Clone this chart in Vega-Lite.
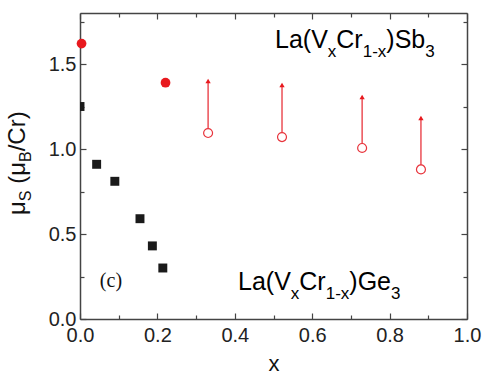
{
  "$schema": "https://vega.github.io/schema/vega-lite/v6.json",
  "width": 387,
  "height": 306,
  "autosize": {"type": "none"},
  "padding": {"left": 80, "top": 13, "right": 23, "bottom": 67},
  "background": "white",
  "config": {
    "view": {"stroke": null},
    "font": "Liberation Sans",
    "axis": {
      "labelFont": "Liberation Sans",
      "labelFontSize": 20,
      "labelColor": "#222",
      "labelFlush": false,
      "labelOverlap": false,
      "domainColor": "#444",
      "domainWidth": 1.5,
      "tickColor": "#444",
      "tickWidth": 1.2,
      "grid": false,
      "titleFont": "Liberation Sans",
      "titleFontSize": 22,
      "titleFontWeight": "normal",
      "titleColor": "#111"
    }
  },
  "datasets": {
    "ge": [
      {"x": 0.0, "y": 1.25},
      {"x": 0.043, "y": 0.91},
      {"x": 0.09, "y": 0.81},
      {"x": 0.155, "y": 0.59},
      {"x": 0.187, "y": 0.43},
      {"x": 0.214, "y": 0.30}
    ],
    "sbFilled": [
      {"x": 0.004, "y": 1.62},
      {"x": 0.221, "y": 1.39}
    ],
    "sbOpen": [
      {"x": 0.331, "y": 1.094, "tip": 1.40},
      {"x": 0.522, "y": 1.07, "tip": 1.376},
      {"x": 0.729, "y": 1.006, "tip": 1.306},
      {"x": 0.881, "y": 0.88, "tip": 1.182}
    ],
    "labelMain": [
      {"x": 0.5039, "y": 1.594, "t": "La(V"},
      {"x": 0.6623, "y": 1.594, "t": "Cr"},
      {"x": 0.7915, "y": 1.594, "t": ")Sb"},
      {"x": 0.4083, "y": 0.171, "t": "La(V"},
      {"x": 0.5667, "y": 0.171, "t": "Cr"},
      {"x": 0.6959, "y": 0.171, "t": ")Ge"}
    ],
    "labelSub": [
      {"x": 0.6403, "y": 1.594, "t": "x"},
      {"x": 0.7305, "y": 1.594, "t": "1-x"},
      {"x": 0.8920, "y": 1.594, "t": "3"},
      {"x": 0.5447, "y": 0.171, "t": "x"},
      {"x": 0.6349, "y": 0.171, "t": "1-x"},
      {"x": 0.8036, "y": 0.171, "t": "3"}
    ],
    "ytitleMain": [
      {"x": -0.1421, "y": 0.6118, "t": "μ"},
      {"x": -0.1421, "y": 0.7953, "t": "(μ"},
      {"x": -0.1421, "y": 0.9865, "t": "/Cr)"}
    ],
    "ytitleSub": [
      {"x": -0.1421, "y": 0.6929, "t": "S"},
      {"x": -0.1421, "y": 0.9235, "t": "B"}
    ],
    "panel": [
      {"x": 0.08, "y": 0.188, "t": "(c)"}
    ]
  },
  "resolve": {"axis": {"x": "independent", "y": "independent"}},
  "layer": [
    {
      "data": {"name": "ge"},
      "mark": {"type": "point", "shape": "square", "filled": true, "size": 80, "color": "#1a1a1a", "opacity": 1, "clip": true},
      "encoding": {
        "x": {"field": "x", "type": "quantitative", "scale": {"domain": [0, 1], "nice": false, "zero": false},
          "axis": {"orient": "bottom", "values": [0, 0.2, 0.4, 0.6, 0.8, 1.0], "format": ".1f", "tickSize": -6, "labelPadding": 12, "title": "x", "titlePadding": 8}},
        "y": {"field": "y", "type": "quantitative", "scale": {"domain": [0, 1.8], "nice": false, "zero": false},
          "axis": {"orient": "left", "values": [0, 0.5, 1.0, 1.5], "format": ".1f", "tickSize": -6, "labelPadding": 10, "title": null}}
      }
    },
    {
      "data": {"name": "sbFilled"},
      "mark": {"type": "point", "shape": "circle", "filled": true, "size": 95, "color": "#e8191e", "opacity": 1},
      "encoding": {
        "x": {"field": "x", "type": "quantitative", "scale": {"domain": [0, 1], "nice": false, "zero": false},
          "axis": {"orient": "top", "values": [0, 0.2, 0.4, 0.6, 0.8, 1.0], "labels": false, "tickSize": -6, "title": null}},
        "y": {"field": "y", "type": "quantitative", "scale": {"domain": [0, 1.8], "nice": false, "zero": false},
          "axis": {"orient": "right", "values": [0, 0.5, 1.0, 1.5], "labels": false, "tickSize": -6, "title": null}}
      }
    },
    {
      "data": {"name": "sbOpen"},
      "mark": {"type": "rule", "color": "#e8343c", "strokeWidth": 1.3},
      "encoding": {
        "x": {"field": "x", "type": "quantitative", "scale": {"domain": [0, 1], "nice": false, "zero": false},
          "axis": {"orient": "bottom", "values": [0.1, 0.3, 0.5, 0.7, 0.9], "labels": false, "domain": false, "tickSize": -4, "title": null}},
        "y": {"field": "y", "type": "quantitative", "scale": {"domain": [0, 1.8], "nice": false, "zero": false},
          "axis": {"orient": "left", "values": [0.25, 0.75, 1.25, 1.75], "labels": false, "domain": false, "tickSize": -4, "title": null}},
        "y2": {"field": "tip"}
      }
    },
    {
      "data": {"name": "sbOpen"},
      "mark": {"type": "point", "shape": "circle", "filled": false, "fill": "white", "fillOpacity": 1, "size": 80, "stroke": "#e8343c", "strokeWidth": 1.2, "opacity": 1},
      "encoding": {
        "x": {"field": "x", "type": "quantitative", "scale": {"domain": [0, 1], "nice": false, "zero": false},
          "axis": {"orient": "top", "values": [0.1, 0.3, 0.5, 0.7, 0.9], "labels": false, "domain": false, "tickSize": -4, "title": null}},
        "y": {"field": "y", "type": "quantitative", "scale": {"domain": [0, 1.8], "nice": false, "zero": false},
          "axis": {"orient": "right", "values": [0.25, 0.75, 1.25, 1.75], "labels": false, "domain": false, "tickSize": -4, "title": null}}
      }
    },
    {
      "data": {"name": "sbOpen"},
      "mark": {"type": "point", "shape": "triangle-up", "filled": true, "size": 28, "color": "#e8191e", "opacity": 1},
      "encoding": {
        "x": {"field": "x", "type": "quantitative", "scale": {"domain": [0, 1], "nice": false, "zero": false}, "axis": null},
        "y": {"field": "tip", "type": "quantitative", "scale": {"domain": [0, 1.8], "nice": false, "zero": false}, "axis": null}
      }
    },
    {
      "data": {"name": "labelMain"},
      "mark": {"type": "text", "align": "left", "baseline": "alphabetic", "fontSize": 25, "font": "Liberation Sans", "color": "#000"},
      "encoding": {
        "x": {"field": "x", "type": "quantitative", "scale": {"domain": [0, 1], "nice": false, "zero": false}, "axis": null},
        "y": {"field": "y", "type": "quantitative", "scale": {"domain": [0, 1.8], "nice": false, "zero": false}, "axis": null},
        "text": {"field": "t"}
      }
    },
    {
      "data": {"name": "labelSub"},
      "mark": {"type": "text", "align": "left", "baseline": "alphabetic", "fontSize": 17, "dy": 9, "font": "Liberation Sans", "color": "#000"},
      "encoding": {
        "x": {"field": "x", "type": "quantitative", "scale": {"domain": [0, 1], "nice": false, "zero": false}, "axis": null},
        "y": {"field": "y", "type": "quantitative", "scale": {"domain": [0, 1.8], "nice": false, "zero": false}, "axis": null},
        "text": {"field": "t"}
      }
    },
    {
      "data": {"name": "ytitleMain"},
      "mark": {"type": "text", "align": "left", "baseline": "alphabetic", "angle": 270, "fontSize": 24, "font": "Liberation Sans", "color": "#111"},
      "encoding": {
        "x": {"field": "x", "type": "quantitative", "scale": {"domain": [0, 1], "nice": false, "zero": false}, "axis": null},
        "y": {"field": "y", "type": "quantitative", "scale": {"domain": [0, 1.8], "nice": false, "zero": false}, "axis": null},
        "text": {"field": "t"}
      }
    },
    {
      "data": {"name": "ytitleSub"},
      "mark": {"type": "text", "align": "left", "baseline": "alphabetic", "angle": 270, "fontSize": 16, "dy": 6, "font": "Liberation Sans", "color": "#111"},
      "encoding": {
        "x": {"field": "x", "type": "quantitative", "scale": {"domain": [0, 1], "nice": false, "zero": false}, "axis": null},
        "y": {"field": "y", "type": "quantitative", "scale": {"domain": [0, 1.8], "nice": false, "zero": false}, "axis": null},
        "text": {"field": "t"}
      }
    },
    {
      "data": {"name": "panel"},
      "mark": {"type": "text", "align": "center", "baseline": "alphabetic", "fontSize": 20, "font": "Liberation Serif", "color": "#111"},
      "encoding": {
        "x": {"field": "x", "type": "quantitative", "scale": {"domain": [0, 1], "nice": false, "zero": false}, "axis": null},
        "y": {"field": "y", "type": "quantitative", "scale": {"domain": [0, 1.8], "nice": false, "zero": false}, "axis": null},
        "text": {"field": "t"}
      }
    }
  ]
}
